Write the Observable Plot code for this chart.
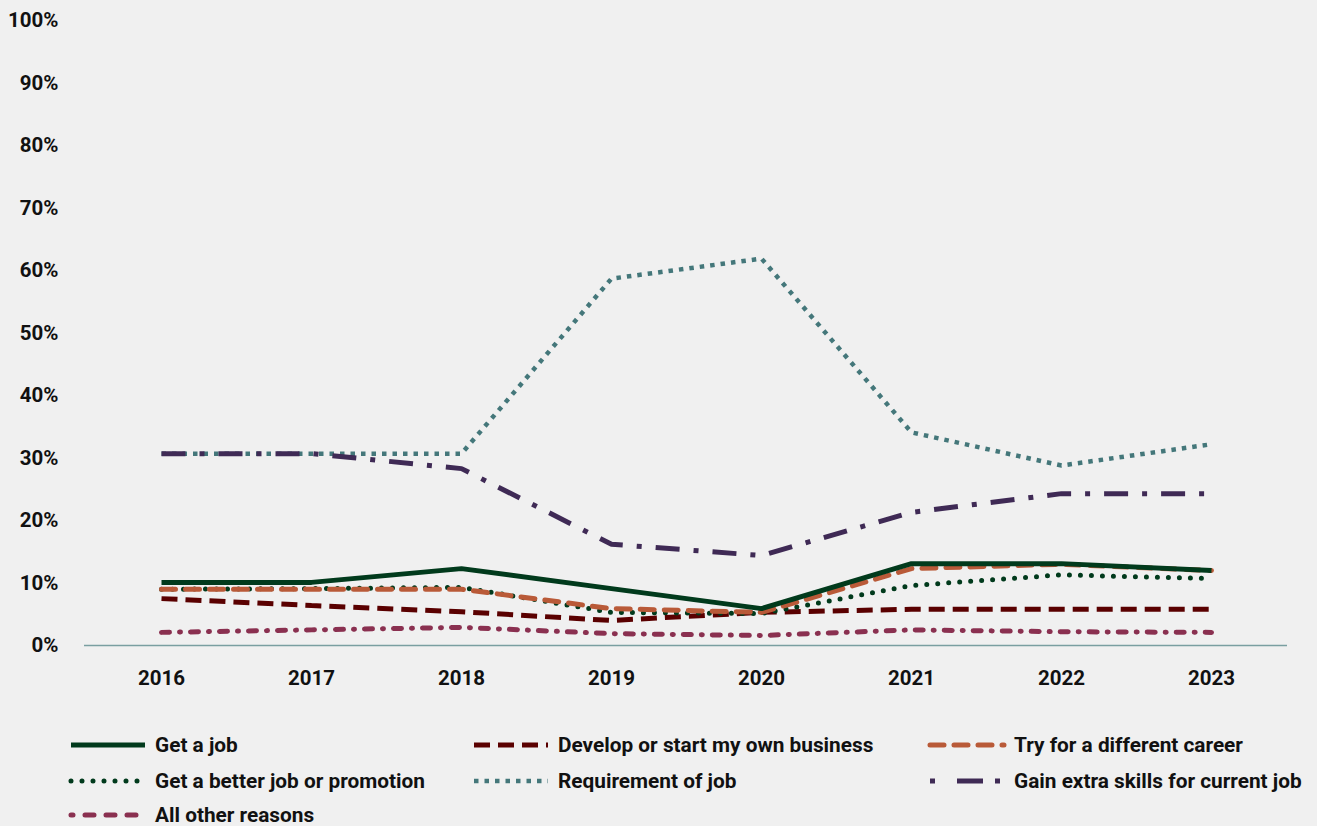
<!DOCTYPE html>
<html>
<head>
<meta charset="utf-8">
<script src="https://cdn.jsdelivr.net/npm/d3@7"></script>
<script src="https://cdn.jsdelivr.net/npm/@observablehq/plot@0.6"></script>
<style>
  html, body { margin: 0; padding: 0; background: #f0f0f0; }
  body { width: 1317px; height: 826px; overflow: hidden; font-family: Roboto, "Noto Sans", sans-serif; }
  #chart svg { display: block; background: #f0f0f0; }
  #legend { position: relative; height: 116px; }
  .item { position: absolute; display: flex; align-items: center; font-weight: 700; font-size: 20.8px; color: #111; white-space: nowrap; }
  .item svg { margin-right: 7px; }
</style>
</head>
<body>
<div id="chart"></div>
<div id="legend"></div>
<script>
const years = ["2016", "2017", "2018", "2019", "2020", "2021", "2022", "2023"];
const seriesNames = [
  "Get a job",
  "Develop or start my own business",
  "Try for a different career",
  "Get a better job or promotion",
  "Requirement of job",
  "Gain extra skills for current job",
  "All other reasons"
];
const getAJob        = [10.1, 10.1, 12.3, 9.1, 5.9, 13.1, 13.1, 12.0];
const ownBusiness    = [7.5, 6.4, 5.4, 4.0, 5.3, 5.8, 5.8, 5.8];
const differentCareer= [9.0, 9.0, 9.0, 5.9, 5.3, 12.3, 13.0, 12.0];
const betterJob      = [9.0, 9.1, 9.3, 5.3, 5.1, 9.6, 11.3, 10.7];
const requirement    = [30.7, 30.7, 30.7, 58.7, 61.9, 34.1, 28.8, 32.2];
const extraSkills    = [30.7, 30.7, 28.3, 16.2, 14.4, 21.3, 24.3, 24.3];
const otherReasons   = [2.1, 2.5, 2.9, 1.9, 1.6, 2.5, 2.2, 2.1];
const yTicks = [0, 10, 20, 30, 40, 50, 60, 70, 80, 90, 100];

const values = [getAJob, ownBusiness, differentCareer, betterJob, requirement, extraSkills, otherReasons];
const styles = [
  {stroke: "#013a1c", width: 5, dash: null, cap: "butt"},
  {stroke: "#5a0000", width: 5, dash: "16,8", cap: "butt"},
  {stroke: "#b95a38", width: 5, dash: "14,10", cap: "round"},
  {stroke: "#013a1c", width: 5, dash: "0,11", cap: "round"},
  {stroke: "#44777a", width: 4.5, dash: "4.5,6", cap: "butt"},
  {stroke: "#3f2a55", width: 5, dash: "24,14,5,14", cap: "butt"},
  {stroke: "#8a3050", width: 5, dash: "8,10,1,10", cap: "round"}
];

const drawOrder = [6, 4, 5, 1, 3, 2, 0];
const marks = [
  Plot.ruleY([0], {stroke: "#7a9fa1", strokeWidth: 1.5})
];
for (const i of drawOrder) {
  const data = years.map((y, j) => ({year: y, value: values[i][j]}));
  const s = styles[i];
  marks.push(Plot.lineY(data, {
    x: "year", y: "value",
    stroke: s.stroke, strokeWidth: s.width,
    strokeDasharray: s.dash || undefined,
    strokeLinecap: s.cap, strokeLinejoin: "miter"
  }));
}

const plot = Plot.plot({
  width: 1317,
  height: 710,
  marginTop: 20,
  marginBottom: 65,
  marginLeft: 84,
  marginRight: 30,
  style: {background: "#f0f0f0", fontFamily: "Roboto, sans-serif", fontSize: "20.5px", fontWeight: "700", color: "#111"},
  x: {type: "point", domain: years, padding: 0.5, label: null, tickSize: 0, tickPadding: 25},
  y: {domain: [0, 100], ticks: yTicks, tickFormat: d => d + "%", label: null, tickSize: 0, tickPadding: 26},
  marks
});
document.getElementById("chart").appendChild(plot);

// legend
const legend = document.getElementById("legend");
const cols = [68, 471, 927];
const rows = [35, 71, 105];
const legendDash = ["", "16,8", "14,10", "0,11", "4.5,6", "5,22,26,12,5,40", "2,12,9,12,9,12,9,12"];
seriesNames.forEach((name, i) => {
  const s = styles[i];
  const div = document.createElement("div");
  div.className = "item";
  div.style.left = cols[i % 3] + "px";
  div.style.top = (rows[Math.floor(i / 3)] - 12) + "px";
  const w = 80;
  const dash = legendDash[i] ? `stroke-dasharray="${legendDash[i]}"` : "";
  div.innerHTML = `<svg width="${w}" height="24"><line x1="3" y1="12" x2="${w - 3}" y2="12" stroke="${s.stroke}" stroke-width="${s.width}" ${dash} stroke-linecap="${s.cap}"/></svg><span>${name}</span>`;
  legend.appendChild(div);
});
</script>
</body>
</html>
